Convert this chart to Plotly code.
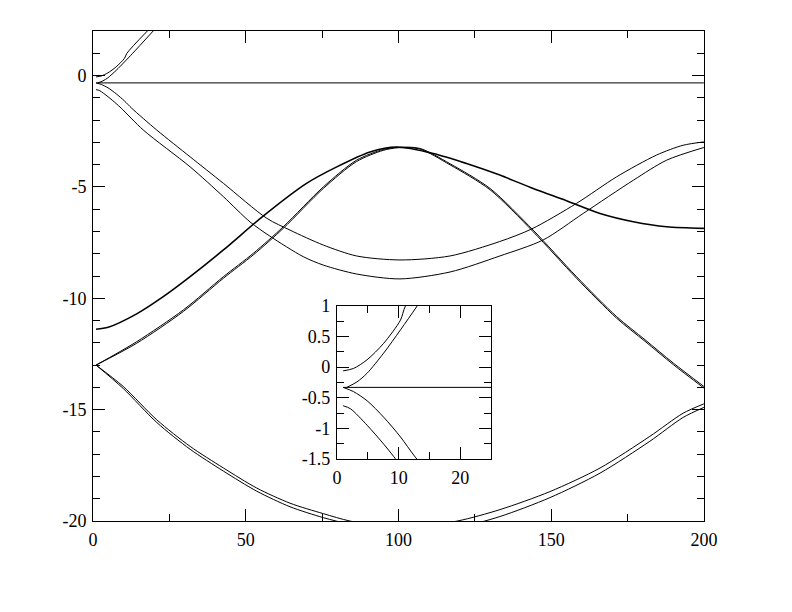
import plotly.graph_objects as go

# ---- data ----
A_x = [1.0, 5.0, 14.3, 23.0, 31.8, 42.7, 55.7, 69.9, 79.8, 90.7, 99.4, 111.4, 122.3, 133.2, 144.1, 155.0, 166.0, 176.9, 187.8, 200.0]
A_y = [-11.39, -11.3, -10.7, -9.93, -9.03, -7.83, -6.31, -4.84, -4.10, -3.43, -3.21, -3.5, -3.95, -4.47, -5.07, -5.62, -6.19, -6.56, -6.79, -6.86]

B_x = [1.0, 14.3, 29.6, 42.7, 52.5, 62.3, 75.4, 86.3, 95.0, 100.0, 107.0, 116.9, 130.0, 144.1, 158.3, 171.4, 180.7, 190.0, 200.0]
B1_y = [-13.0, -11.95, -10.52, -9.03, -7.98, -6.79, -5.0, -3.80, -3.32, -3.22, -3.27, -3.96, -5.07, -6.94, -9.03, -10.82, -11.86, -12.91, -13.96]
B2_y = [-13.0, -12.02, -10.59, -9.10, -8.05, -6.86, -5.07, -3.86, -3.36, -3.24, -3.30, -4.01, -5.13, -7.01, -9.10, -10.89, -11.93, -12.98, -14.03]

C_x = [1.0, 2.7, 4.9, 7.6, 10.3, 12.7, 20.9, 31.8, 42.7, 56.9, 64.5, 75.4, 86.3, 100.5, 116.9, 133.2, 143.6, 158.3, 171.4, 184.5, 193.2, 200.0]
C_y = [-0.33, -0.40, -0.55, -0.82, -1.14, -1.47, -2.45, -3.65, -4.84, -6.41, -6.94, -7.61, -8.10, -8.28, -8.10, -7.45, -6.89, -5.74, -4.55, -3.57, -3.13, -2.98]

D_x = [1.0, 2.2, 4.9, 7.6, 9.2, 16.5, 31.8, 42.7, 51.4, 57.9, 68.8, 75.4, 86.3, 100.5, 116.9, 133.2, 147.4, 160.5, 176.9, 187.8, 200.0]
D_y = [-0.63, -0.68, -0.95, -1.26, -1.46, -2.45, -4.10, -5.44, -6.57, -7.21, -8.13, -8.51, -8.91, -9.13, -8.82, -8.10, -7.38, -6.19, -4.70, -3.80, -3.23]

E_x = [1.0, 2.7, 4.87, 7.57, 10.3, 11.1, 17.8]
E_y = [-0.06, -0.02, 0.12, 0.39, 0.77, 1.0, 2.0]

F_x = [1.6, 3.25, 4.87, 7.57, 10.3, 13.0, 19.7]
F_y = [-0.33, -0.24, -0.10, 0.23, 0.61, 1.0, 2.0]

G_x = [1.0, 200.0]
G_y = [-0.33, -0.33]

H_x = [1.0, 9.9, 20.9, 31.8, 42.7, 53.6, 64.5, 75.4, 84.1, 100.0, 119.3, 133.2, 149.6, 166.0, 182.3, 193.2, 200.0]
H1_y = [-13.0, -13.96, -15.46, -16.65, -17.62, -18.52, -19.2, -19.67, -20.0, -20.35, -20.0, -19.49, -18.68, -17.62, -16.20, -15.16, -14.74]
H2_y = [-13.0, -14.05, -15.58, -16.78, -17.76, -18.66, -19.36, -19.85, -20.15, -20.6, -20.3, -19.8, -18.95, -17.85, -16.42, -15.35, -14.9]

main_x_ticks = [0, 50, 100, 150, 200]
main_x_labels = ["0", "50", "100", "150", "200"]
main_y_ticks = [-20, -15, -10, -5, 0]
main_y_labels = ["-20", "-15", "-10", "-5", "0"]
inset_x_ticks = [0, 10, 20]
inset_x_labels = ["0", "10", "20"]
inset_y_ticks = [-1.5, -1, -0.5, 0, 0.5, 1]
inset_y_labels = ["-1.5", "-1", "-0.5", "0", "0.5", "1"]

# ---- figure ----
fig = go.Figure()

main_series = [
    (A_x, A_y, 1.6), (B_x, B1_y, 1), (B_x, B2_y, 1), (C_x, C_y, 1), (D_x, D_y, 1),
    (E_x, E_y, 1), (F_x, F_y, 1), (G_x, G_y, 1), (H_x, H1_y, 1), (H_x, H2_y, 1),
]
for xs, ys, w in main_series:
    fig.add_trace(go.Scatter(x=xs, y=ys, mode="lines",
                             line=dict(color="black", width=w, shape="spline", smoothing=0.8),
                             xaxis="x", yaxis="y", showlegend=False, hoverinfo="skip"))

inset_series = [(C_x, C_y), (D_x, D_y), (E_x, E_y), (F_x, F_y), (G_x, G_y)]
for xs, ys in inset_series:
    fig.add_trace(go.Scatter(x=xs, y=ys, mode="lines",
                             line=dict(color="black", width=1, shape="spline", smoothing=0.8),
                             xaxis="x2", yaxis="y2", showlegend=False, hoverinfo="skip"))

font = dict(family="Liberation Serif, Times New Roman, serif", size=18, color="black")

def ax(rng, tv, tt, minor_dtick, domain, anchor):
    return dict(
        range=rng, domain=domain, anchor=anchor,
        tickmode="array", tickvals=tv, ticktext=tt,
        ticks="inside", ticklen=12, tickwidth=1, tickcolor="black",
        minor=dict(tickmode="linear", tick0=0, dtick=minor_dtick, ticks="inside",
                   ticklen=7, tickwidth=1, tickcolor="black", showgrid=False),
        showline=True, linecolor="black", linewidth=1, mirror="allticks",
        showgrid=False, zeroline=False, tickfont=font, ticklabelstandoff=2,
    )

# the page body adds an 8px margin, so the figure is 8px smaller and left/top margins shifted
fig.update_layout(
    width=784, height=604,
    margin=dict(l=85, r=80, t=23, b=83),
    paper_bgcolor="white", plot_bgcolor="white",
    xaxis=ax([0, 200], main_x_ticks, main_x_labels, 25, [0, 0.98691], "y"),
    yaxis=ax([-20, 2], main_y_ticks, main_y_labels, 1, [0.01606, 1], "x"),
    xaxis2=ax([0, 25], inset_x_ticks, inset_x_labels, 5, [0.3941, 0.6433], "y2"),
    yaxis2=ax([-1.5, 1], inset_y_ticks, inset_y_labels, 0.25, [0.1406, 0.4478], "x2"),
)

fig.write_html("out.html")
